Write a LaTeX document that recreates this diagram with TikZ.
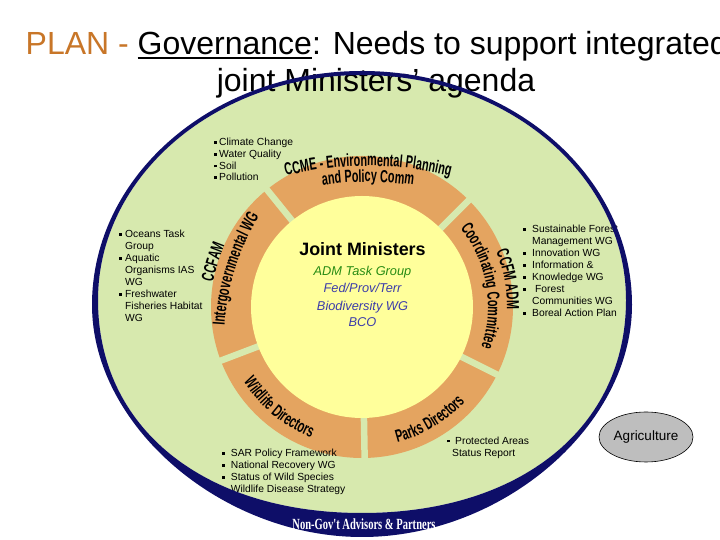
\documentclass[tikz,border=0pt]{standalone}
\usepackage{fontspec}
\setmainfont{Liberation Sans}
\newfontfamily\ringfam[FakeStretch=0.62]{Liberation Sans}
\newfontfamily\ngfam[FakeStretch=0.68]{Liberation Serif}
\usetikzlibrary{decorations.text,shapes.geometric,calc}
\definecolor{navyc}{RGB}{14,14,104}
\definecolor{bggreen}{RGB}{215,233,174}
\definecolor{ringor}{RGB}{228,164,96}
\definecolor{coreyel}{RGB}{255,255,155}
\definecolor{planc}{RGB}{200,118,40}
\definecolor{admgreen}{RGB}{40,140,20}
\definecolor{bioblue}{RGB}{60,60,170}
\definecolor{agrigray}{RGB}{190,190,190}
\newcommand\rfont{\ringfam\bfseries\fontsize{17.5}{17.5}\selectfont}
\newcommand\sqb{\rule[1.7pt]{2.6pt}{2.6pt}}
\newcommand\bb[1]{\makebox[#1][l]{\sqb}}
\newsavebox\govbox
\begin{document}
\begin{tikzpicture}[x=1pt,y=1pt,
  lst/.style={anchor=north west, inner sep=0pt, align=left, font=\fontsize{10.3}{12}\selectfont},
  ringtxt/.style={decorate, decoration={text along path, text align=center, text={#1}}},
  gapline/.style={draw=bggreen, line width=6.5pt},
  centre/.style={inner sep=0pt, anchor=base},
]
\useasboundingbox (0,0) rectangle (720,540);
\fill[white] (0,0) rectangle (720,540);

% green field
\fill[bggreen] (626,240) arc[start angle=0,end angle=180,x radius=264pt,y radius=225pt]
  .. controls (98,112.2) and (203.6,27) .. (362,27)
  .. controls (520.4,27) and (626,112.2) .. (626,240) -- cycle;

% ring
\coordinate (C) at (362,233);
\coordinate (T) at (368,32);
\coordinate (L) at (467,198);
\fill[ringor] (C) circle[radius=151pt];
\foreach \a in {45,129,200.8,271,333.4}
  \draw[gapline] ($(C)+(\a:104pt)$) -- ($(C)+(\a:158pt)$);
\fill[coreyel] (C) circle[radius=111pt];

% ring texts
\path[ringtxt={|\rfont|CCME - Environmental Planning}] ($(T)+(118:342pt)$) arc[start angle=118, end angle=62, radius=342pt];
\path[ringtxt={|\rfont|and Policy Comm}] ($(T)+(110:326pt)$) arc[start angle=110, end angle=70, radius=326pt];
\path[ringtxt={|\rfont|CCFAM}] ($(L)+(190:261pt)$) arc[start angle=190, end angle=135, radius=261pt];
\path[ringtxt={|\rfont|Intergovernmental WG}] ($(L)+(190:243pt)$) arc[start angle=190, end angle=135, radius=243pt];
\path[ringtxt={|\rfont|CCFM ADM}] ($(C)+(60.7:145pt)$) arc[start angle=60.7, end angle=-39.3, radius=145pt];
\path[ringtxt={|\rfont|Coordinating Committee}] ($(C)+(60:126pt)$) arc[start angle=60, end angle=-40, radius=126pt];
\path[ringtxt={|\rfont|Wildlife Directors}] ($(C)+(180.5:140pt)$) arc[start angle=180.5, end angle=280.5, radius=140pt];
\path[ringtxt={|\rfont|Parks Directors}] ($(C)+(251:140pt)$) arc[start angle=251, end angle=351, radius=140pt];

% centre texts
\node[centre, font=\bfseries\fontsize{17.9}{20}\selectfont] (jm) at (362.5,284.7) {Joint Ministers};
\node[centre, text=admgreen, font=\itshape\fontsize{12.8}{14}\selectfont] (adm) at (362.5,264.7) {ADM Task Group};
\node[centre, text=bioblue, font=\itshape\fontsize{12.8}{14}\selectfont] (fpt) at (362.5,247.4) {Fed/Prov/Terr};
\node[centre, text=bioblue, font=\itshape\fontsize{12.8}{14}\selectfont] (bio) at (362.5,229.7) {Biodiversity WG};
\node[centre, text=bioblue, font=\itshape\fontsize{12.8}{14}\selectfont] (bco) at (362.5,213.4) {BCO};

% lists
\node[lst, font=\fontsize{10.3}{11.7}\selectfont] (envlist) at (214,402.5)
  {\rule{0pt}{8pt}\bb{5pt}Climate Change\\ \bb{5pt}Water Quality\\ \bb{5pt}Soil\\ \bb{5pt}Pollution};
\node[lst] (ocean) at (119,310.5)
  {\rule{0pt}{8pt}\bb{6pt}Oceans Task\\ \hspace*{6pt}Group\\ \bb{6pt}Aquatic\\ \hspace*{6pt}Organisms IAS\\ \hspace*{6pt}WG\\ \bb{6pt}Freshwater\\ \hspace*{6pt}Fisheries Habitat\\ \hspace*{6pt}WG};
\node[lst] (forest) at (523,315.5)
  {\rule{0pt}{8pt}\bb{9pt}Sustainable Forest\\ \hspace*{9pt}Management WG\\ \bb{9pt}Innovation WG\\ \bb{9pt}Information \&\\ \bb{9pt}Knowledge WG\\ \bb{9pt}\hspace*{3pt}Forest\\ \hspace*{9pt}Communities WG\\ \bb{9pt}Boreal Action Plan};
\node[lst] (wild) at (222,91.5)
  {\rule{0pt}{8pt}\bb{8.7pt}SAR Policy Framework\\ \bb{8.7pt}National Recovery WG\\ \bb{8.7pt}Status of Wild Species\\ \bb{8.7pt}Wildlife Disease Strategy};
\node[lst] (parks) at (447,104)
  {\rule{0pt}{8pt}\bb{8pt}Protected Areas\\ \hspace*{5pt}Status Report};

% title
\node[anchor=base west, inner sep=0pt, font=\fontsize{32}{36}\selectfont] (title1) at (25.5,485)
  {\textcolor{planc}{PLAN -} \sbox\govbox{Governance}\rlap{\rule[-4.5pt]{\wd\govbox}{2pt}}\usebox\govbox: Needs to support integrated};
\node[anchor=base, inner sep=0pt, font=\fontsize{32}{36}\selectfont] (title2) at (376,448) {joint Ministers’ agenda};

% navy border
\fill[navyc, even odd rule]
  (632,235) arc[start angle=0,end angle=180,x radius=270pt,y radius=234pt]
  .. controls (92,114.4) and (221.6,3) .. (362,3)
  .. controls (502.4,3) and (632,114.4) .. (632,235) -- cycle
  (626,240) arc[start angle=0,end angle=180,x radius=264pt,y radius=225pt]
  .. controls (98,112.2) and (203.6,27) .. (362,27)
  .. controls (520.4,27) and (626,112.2) .. (626,240) -- cycle;
\node[centre, text=white, font=\ngfam\bfseries\fontsize{15.5}{16}\selectfont] (ngo) at (364,10.5) {Non-Gov't Advisors \& Partners};

% agriculture
\node[ellipse, draw=black, line width=0.6pt, fill=agrigray, minimum width=94pt, minimum height=50pt, inner sep=0pt, font=\fontsize{13.5}{16}\selectfont] (agri) at (646,103) {Agriculture};
\end{tikzpicture}
\end{document}
